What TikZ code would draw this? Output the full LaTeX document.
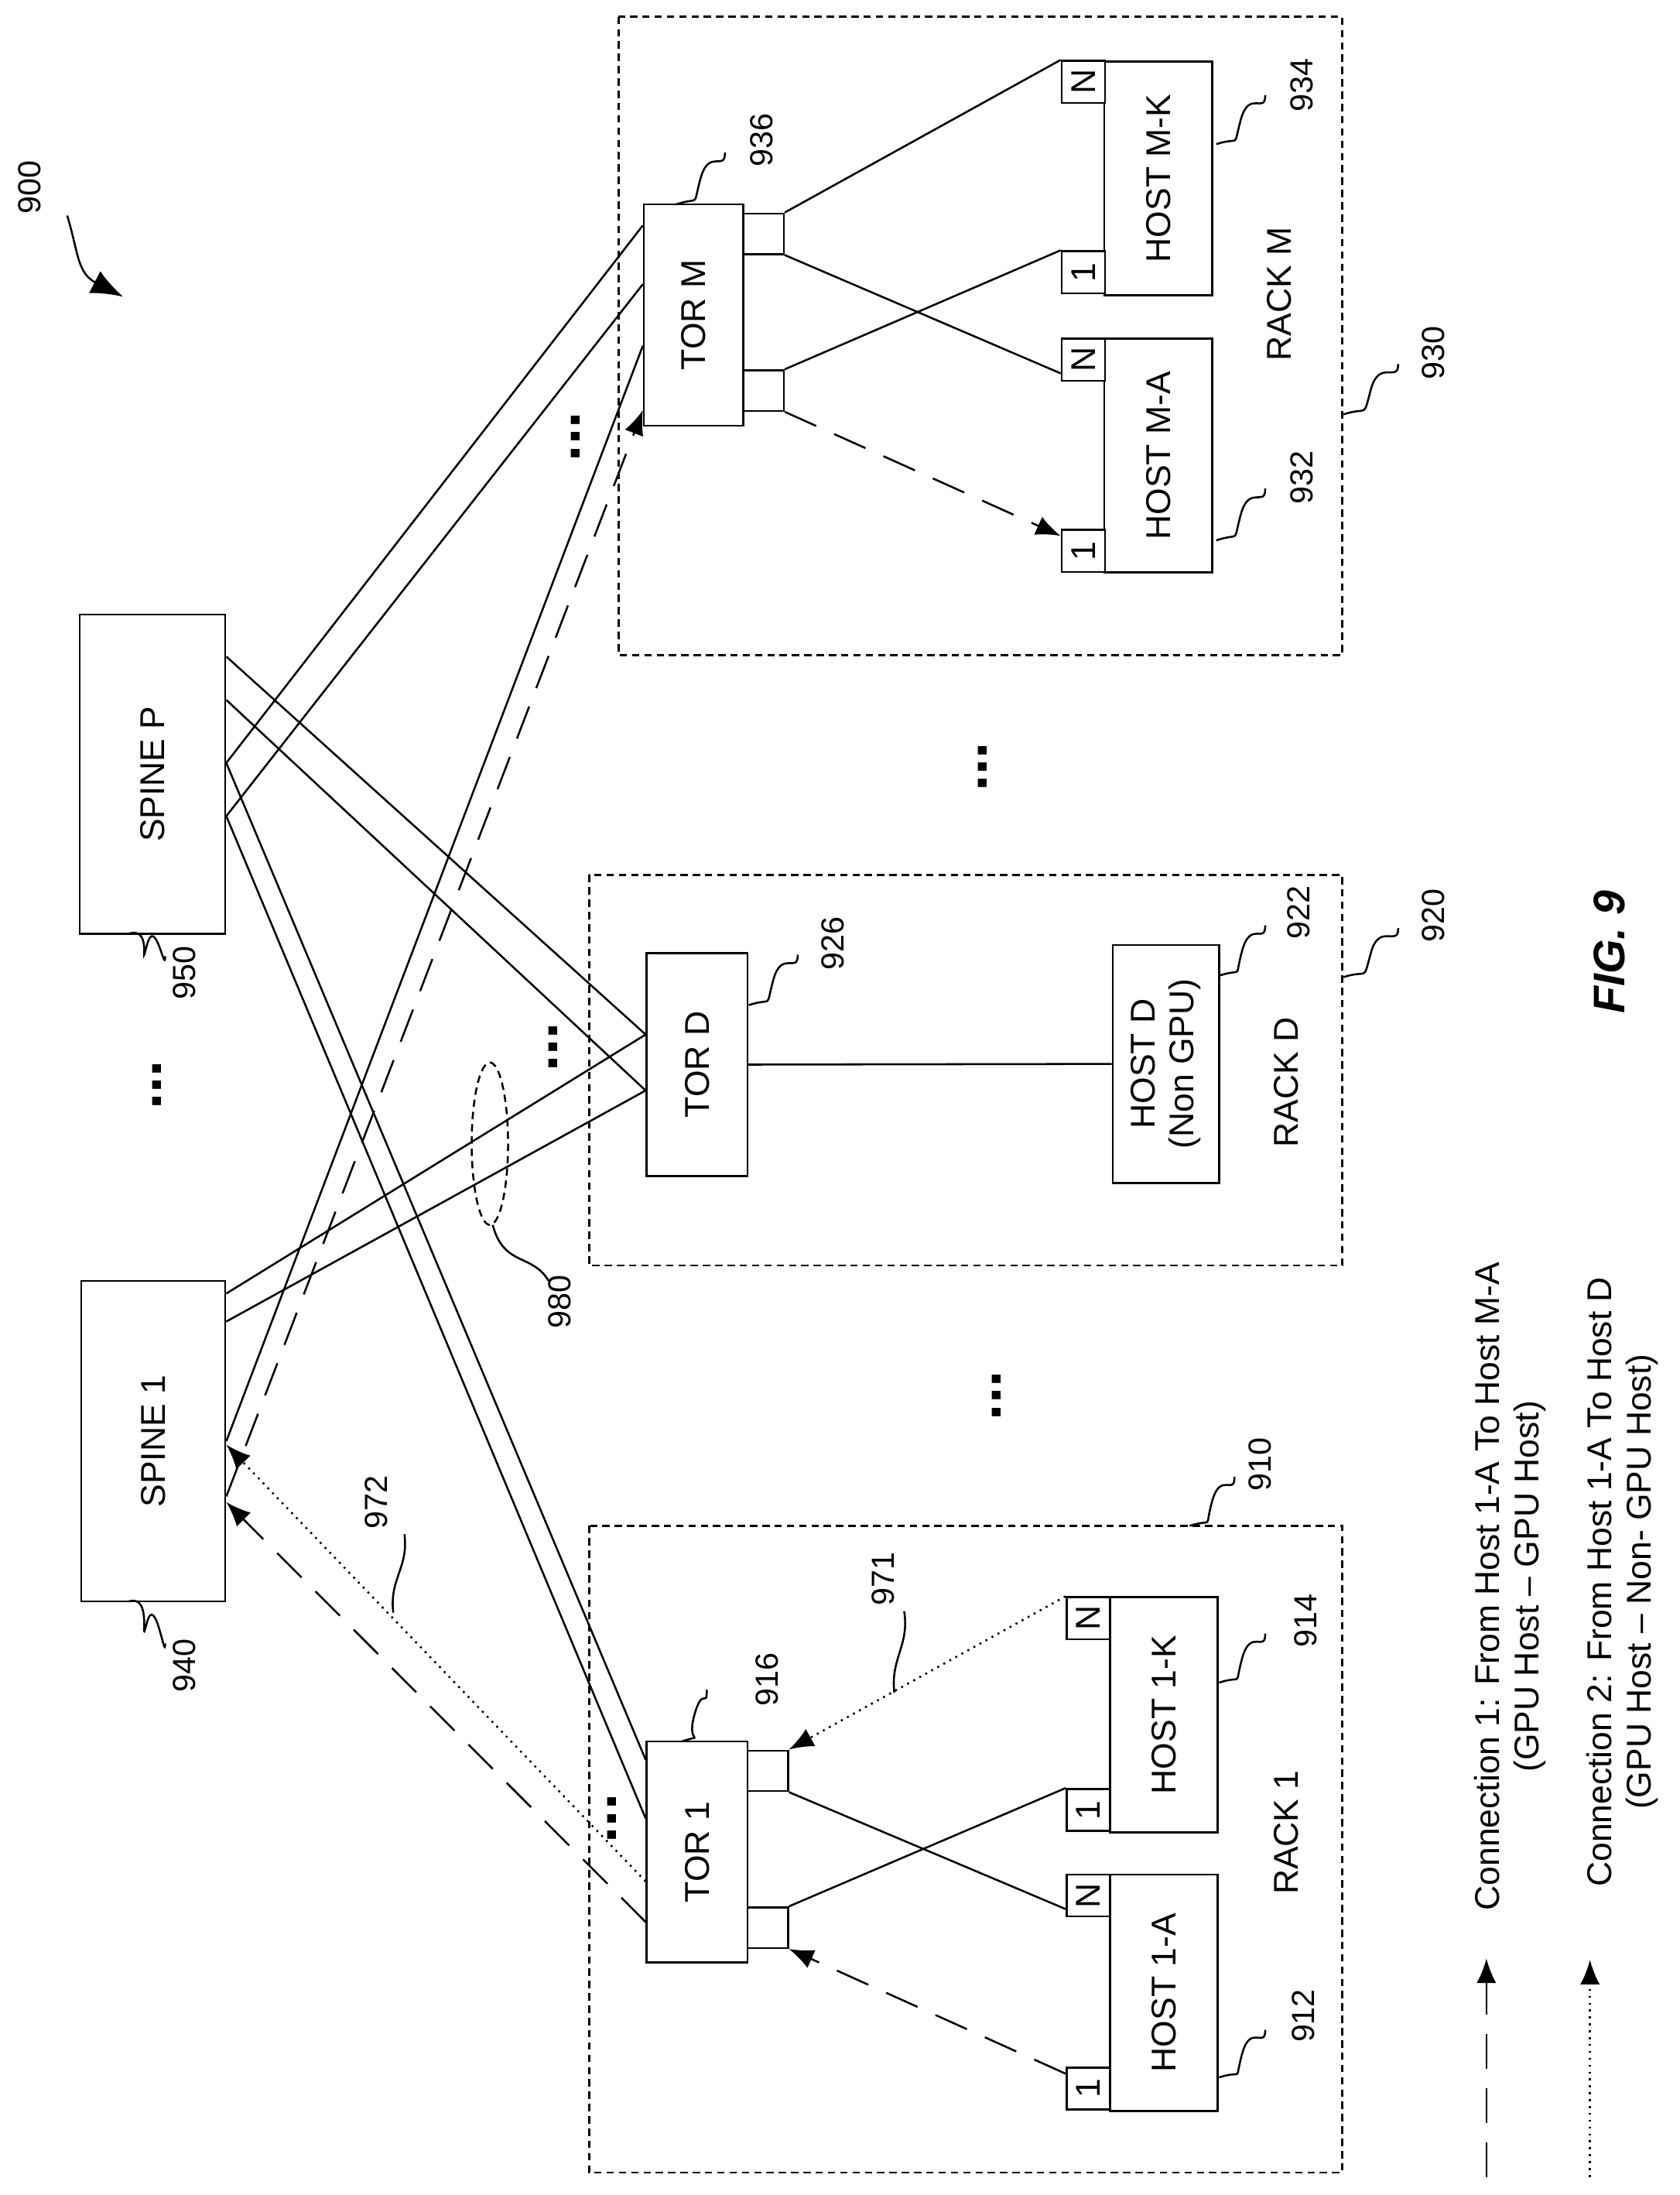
\documentclass[tikz,border=0pt]{standalone}
\usepackage{fontspec}
\setmainfont{Liberation Sans}
\usetikzlibrary{arrows.meta}
\tikzset{
  box/.style={draw, thick, fill=white, inner sep=0pt},
  port/.style={draw, thick, fill=white, minimum width=0.62cm, minimum height=0.6cm, inner sep=0pt, font=\fontsize{14}{14}\selectfont},
  tport/.style={draw, thick, fill=white, minimum size=0.58cm, inner sep=0pt},
  rack/.style={draw, densely dashed, thick},
  lbl/.style={rotate=90, font=\fontsize{14}{16}\selectfont},
  num/.style={rotate=90, font=\fontsize{13}{15}\selectfont},
  lead/.style={thick},
  dots/.style={rotate=90, font=\fontsize{24}{24}\selectfont\bfseries},
  conA/.style={thick, dash pattern=on 14pt off 8pt, -{Latex[length=10pt,width=8pt]}},
  conB/.style={thick, dotted, -{Latex[length=10pt,width=8pt]}},
}
\newcommand{\leader}[2]{\draw[lead] #1 .. controls +(18,-6) and +(-6,22) .. ($#1!0.5!#2$) .. controls +(6,-22) and +(0,14) .. #2;}
\usetikzlibrary{calc}
\begin{document}
\begin{tikzpicture}[x=0.02cm, y=-0.02cm]
    \useasboundingbox (0,0) rectangle (1200,1568);
    % Racks
    \draw[rack] (421,1090) rectangle (959,1552);
    \draw[rack] (421,625) rectangle (959,904);
    \draw[rack] (442,12) rectangle (959,468);

    % Spines
    \node[box, minimum width=2.06cm, minimum height=4.58cm] (sp1) at (109.5,1029.5) {};
    \node[lbl] at (sp1) {SPINE 1};
    \node[box, minimum width=2.08cm, minimum height=4.56cm] (spp) at (109,553) {};
    \node[lbl] at (spp) {SPINE P};

    % TORs
    \node[box, minimum width=1.44cm, minimum height=3.16cm] (tor1) at (498,1323) {};
    \node[lbl] at (tor1) {TOR 1};
    \node[box, minimum width=1.44cm, minimum height=3.18cm] (tord) at (498,760.5) {};
    \node[lbl] at (tord) {TOR D};
    \node[box, minimum width=1.42cm, minimum height=3.16cm] (torm) at (495.5,225) {};
    \node[lbl] at (torm) {TOR M};

    % TOR ports
    \node[tport] (t1a) at (548.5,1265) {};
    \node[tport] (t1b) at (548.5,1377) {};
    \node[tport] (tma) at (545.5,167) {};
    \node[tport] (tmb) at (545.5,279) {};

    % Hosts
    \node[box, minimum width=1.54cm, minimum height=3.38cm] (h1a) at (831.5,1423.5) {};
    \node[lbl] at (h1a) {HOST 1-A};
    \node[box, minimum width=1.54cm, minimum height=3.36cm] (h1k) at (831.5,1225) {};
    \node[lbl] at (h1k) {HOST 1-K};
    \node[box, minimum width=1.54cm, minimum height=3.34cm] (hma) at (827.5,325.5) {};
    \node[lbl] at (hma) {HOST M-A};
    \node[box, minimum width=1.54cm, minimum height=3.34cm] (hmk) at (827.5,127.5) {};
    \node[lbl] at (hmk) {HOST M-K};
    \node[box, minimum width=1.52cm, minimum height=3.4cm] (hd) at (833,760) {};
    \node[lbl, align=center] at (hd) {HOST D\\(Non GPU)};

    % Host ports
    \node[port] (h1aN) at (777.5,1354) {\rotatebox{90}{N}};
    \node[port] (h1a1) at (777.5,1492) {\rotatebox{90}{1}};
    \node[port] (h1kN) at (777.5,1156) {\rotatebox{90}{N}};
    \node[port] (h1k1) at (777.5,1293) {\rotatebox{90}{1}};
    \node[port] (hmaN) at (774,257) {\rotatebox{90}{N}};
    \node[port] (hma1) at (774,393.5) {\rotatebox{90}{1}};
    \node[port] (hmkN) at (774,58.5) {\rotatebox{90}{N}};
    \node[port] (hmk1) at (774,194.5) {\rotatebox{90}{1}};

    % Rack labels
    \node[lbl] at (919,1309) {RACK 1};
    \node[lbl] at (919,773) {RACK D};
    \node[lbl] at (914,210) {RACK M};

    % TOR to host links
    \draw[thick] (t1a.south east) -- ([yshift=0.12cm]h1aN.south west);
    \draw[thick] (t1b.north east) -- (h1k1.north west);
    \draw[thick] (tma.north east) -- (hmkN.north west);
    \draw[thick] (tma.south east) -- ([yshift=0.12cm]hmaN.south west);
    \draw[thick] (tmb.north east) -- (hmk1.north west);
    \draw[thick] (tord.east) -- (hd.west);

    % TOR to spine links
    \draw[thick] ([yshift=1.32cm]tor1.west) -- ([yshift=0.16cm]spp.east);
    \draw[thick] ([yshift=0.48cm]tor1.west) -- ([yshift=-0.6cm]spp.east);
    \draw[thick] ([yshift=0.43cm]tord.west) -- ([yshift=1.68cm]spp.east);
    \draw[thick] ([yshift=-0.37cm]tord.west) -- ([yshift=1.06cm]spp.east);
    \draw[thick] ([yshift=0.43cm]tord.west) -- ([yshift=2.11cm]sp1.east);
    \draw[thick] ([yshift=-0.37cm]tord.west) -- ([yshift=1.71cm]sp1.east);
    \draw[thick] ([yshift=1.28cm]torm.west) -- ([yshift=0.16cm]spp.east);
    \draw[thick] ([yshift=0.44cm]torm.west) -- ([yshift=-0.6cm]spp.east);
    \draw[thick] ([yshift=-0.44cm]torm.west) -- (sp1.east);

    % Connections
    \draw[conA] ([yshift=-0.1cm]h1a1.north west) -- (t1b.south east);
    \draw[conA] ([yshift=-1.0cm]tor1.west) -- ([yshift=-0.87cm]sp1.east);
    \draw[conA] ([yshift=-0.79cm]sp1.east) -- ([yshift=-1.36cm]torm.west);
    \draw[conA] (tmb.south east) -- ([yshift=-0.1cm]hma1.north west);
    \draw[conB] (h1kN.north west) -- (t1a.north east);
    \draw[conB] ([yshift=-0.42cm]tor1.west) -- ([yshift=-0.05cm]sp1.east);

    % Bundle
    \draw[densely dashed, thick] (350,817) ellipse [x radius=13, y radius=58];

    % Dots
    \node[dots] at (112,775) {...};
    \node[dots] at (395,748) {...};
    \node[dots] at (411,312) {...};
    \node[dots] at (702,548) {...};
    \node[dots] at (712,997) {...};
    \node[dots] at (437,1299) {...};

    % Reference numbers
    \node[num] (n900) at (21,134) {900};
    \draw[thick, -{Latex[length=13pt,width=10pt]}] (48,154) .. controls (56,180) and (55,195) .. (88,212);
    \node[num] (n940) at (132,1190) {940};
    \leader{(92,1144)}{(118,1174)}
    \node[num] (n950) at (132,695) {950};
    \leader{(92,667)}{(118,683)}
    \node[num] (n916) at (548,1200) {916};
    \leader{(487,1244)}{(505,1207)}
    \node[num] (n926) at (595,674) {926};
    \leader{(535,718)}{(570,682)}
    \node[num] (n936) at (544,100) {936};
    \leader{(483,146)}{(518,109)}
    \node[num] (n912) at (931,1440) {912};
    \leader{(871,1484)}{(904,1450)}
    \node[num] (n914) at (933,1158) {914};
    \leader{(871,1202)}{(904,1167)}
    \node[num] (n922) at (928,652) {922};
    \leader{(871,697)}{(904,661)}
    \node[num] (n932) at (930,341) {932};
    \leader{(869,386)}{(904,349)}
    \node[num] (n934) at (930,61) {934};
    \leader{(869,103)}{(904,68)}
    \node[num] (n910) at (900,1046) {910};
    \leader{(850,1090)}{(882,1055)}
    \node[num] (n920) at (1024,654) {920};
    \leader{(960,698)}{(999,663)}
    \node[num] (n930) at (1024,252) {930};
    \leader{(960,296)}{(999,260)}
    \node[num] (n971) at (631,1128) {971};
    \draw[lead] (639,1209) .. controls (636,1185) and (650,1175) .. (646,1151);
    \node[num] (n972) at (269,1073) {972};
    \draw[lead] (281,1152) .. controls (278,1128) and (292,1120) .. (289,1096);
    \node[num] (n980) at (400,930) {980};
    \draw[lead] (352,875) .. controls (360,905) and (380,895) .. (392,915);

    % Figure label
    \node[rotate=90, font=\fontsize{18}{20}\selectfont\bfseries\itshape] (fig) at (1150,680) {FIG. 9};

    % Legend
    \coordinate (la0) at (1062,1555);
    \coordinate (la1) at (1062,1399);
    \draw[conA] (la0) -- (la1);
    \node[lbl, align=center, anchor=west] (lega) at (1079,1371) {Connection 1: From Host 1-A To Host M-A\\(GPU Host -- GPU Host)};
    \coordinate (lb0) at (1136,1555);
    \coordinate (lb1) at (1136,1400);
    \draw[conB] (lb0) -- (lb1);
    \node[lbl, align=center, anchor=west] (legb) at (1159,1354) {Connection 2: From Host 1-A To Host D\\(GPU Host -- Non- GPU Host)};
\end{tikzpicture}
\end{document}
